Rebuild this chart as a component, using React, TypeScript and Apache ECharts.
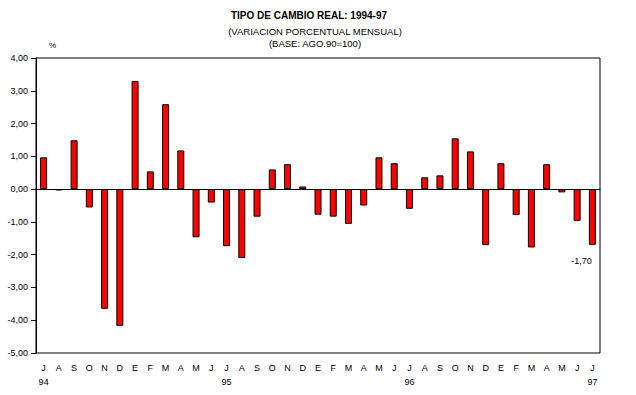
import React, { useEffect, useRef } from "react";
import * as echarts from "echarts";

const months = [
  "J", "A", "S", "O", "N", "D",
  "E", "F", "M", "A", "M", "J", "J", "A", "S", "O", "N", "D",
  "E", "F", "M", "A", "M", "J", "J", "A", "S", "O", "N", "D",
  "E", "F", "M", "A", "M", "J", "J",
];
const yearIndex = [0, 12, 24, 36];
const yearText = ["94", "95", "96", "97"];
const values = [
  0.97, -0.04, 1.49, -0.56, -3.65, -4.17,
  3.3, 0.54, 2.59, 1.18, -1.47, -0.41, -1.74, -2.1, -0.84, 0.6, 0.76, 0.08,
  -0.78, -0.84, -1.06, -0.5, 0.97, 0.79, -0.6, 0.36, 0.42, 1.55, 1.15, -1.71,
  0.79, -0.79, -1.78, 0.76, -0.1, -0.97, -1.7,
];
const annotatedIndex = 36;
const yMin = -5;
const yMax = 4;
const yStep = 1;

const fmt = (v: number) => v.toFixed(2).replace(".", ",");
const FONT = "'Liberation Sans', Arial, sans-serif";

export default function App() {
  const ref = useRef<HTMLDivElement>(null);
  useEffect(() => {
    if (!ref.current) return;
    const chart = echarts.init(ref.current, null, { renderer: "svg" });
    const categories = months.map((_, i) => String(i));
    chart.setOption({
      animation: false,
      backgroundColor: "#fff",
      textStyle: { fontFamily: FONT, color: "#000" },
      graphic: [
        {
          type: "text",
          x: 309,
          y: 15,
          style: {
            text: "TIPO DE CAMBIO REAL: 1994-97",
            fontFamily: FONT,
            fontWeight: "bold",
            fontSize: 10,
            fill: "#000",
            align: "center",
            verticalAlign: "middle",
          },
        },
        {
          type: "text",
          x: 315,
          y: 31,
          style: {
            text: "(VARIACION PORCENTUAL MENSUAL)",
            fontFamily: FONT,
            fontSize: 9.5,
            fill: "#000",
            align: "center",
            verticalAlign: "middle",
          },
        },
        {
          type: "text",
          x: 315,
          y: 43,
          style: {
            text: "(BASE: AGO.90=100)",
            fontFamily: FONT,
            fontSize: 9.5,
            fill: "#000",
            align: "center",
            verticalAlign: "middle",
          },
        },
        {
          type: "text",
          x: 52.5,
          y: 45,
          style: {
            text: "%",
            fontFamily: FONT,
            fontSize: 8,
            fill: "#000",
            align: "center",
            verticalAlign: "middle",
          },
        },
      ],
      grid: {
        left: 36,
        right: 36,
        top: 58,
        bottom: 42,
        show: true,
        borderColor: "#000",
        borderWidth: 1,
        containLabel: false,
      },
      xAxis: {
        type: "category",
        data: categories,
        boundaryGap: true,
        axisLine: { show: true, lineStyle: { color: "#000", width: 1 } },
        axisTick: { show: false },
        axisLabel: {
          interval: 0,
          margin: 8,
          fontFamily: FONT,
          fontSize: 9,
          color: "#000",
          lineHeight: 14,
          formatter: (_v: string, i: number) => {
            const k = yearIndex.indexOf(i);
            return k >= 0 ? months[i] + "\n" + yearText[k] : months[i];
          },
        },
        splitLine: { show: false },
      },
      yAxis: {
        type: "value",
        min: yMin,
        max: yMax,
        interval: yStep,
        axisLine: { show: true, lineStyle: { color: "#000", width: 1 } },
        axisTick: { show: true, length: 5, lineStyle: { color: "#000" } },
        axisLabel: {
          margin: 8,
          fontFamily: FONT,
          fontSize: 9,
          color: "#000",
          formatter: (v: number) => fmt(v),
        },
        splitLine: { show: false },
      },
      series: [
        {
          type: "bar",
          data: values,
          barWidth: 7,
          itemStyle: { color: "#ff0000", borderColor: "#000", borderWidth: 1 },
          markLine: {
            silent: true,
            symbol: ["none", "none"],
            label: { show: false },
            lineStyle: { color: "#000", width: 1, type: "solid" },
            data: [{ yAxis: 0 }],
          },
          markPoint: {
            silent: true,
            symbol: "circle",
            symbolSize: 0,
            data: [
              {
                coord: [categories[annotatedIndex], values[annotatedIndex]],
                value: values[annotatedIndex],
              },
            ],
            label: {
              show: true,
              position: "inside",
              offset: [-11, 16],
              fontFamily: FONT,
              fontSize: 9,
              color: "#000",
              formatter: (p: any) => fmt(p.value),
            },
          },
        },
      ],
    });
    return () => chart.dispose();
  }, []);
  return (
    <div
      ref={ref}
      style={{ position: "fixed", left: 0, top: 0, width: 636, height: 395 }}
    />
  );
}
